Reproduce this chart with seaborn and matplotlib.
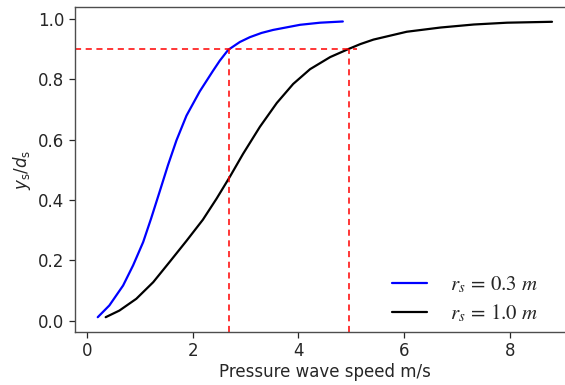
import numpy as np
import pandas as pd
import matplotlib
matplotlib.use("Agg")
import matplotlib.pyplot as plt
from matplotlib.font_manager import FontProperties
import seaborn as sns

# Curve for r_s = 0.3 m (blue)
speed_03 = [0.20, 0.42, 0.68, 0.87, 1.06, 1.21, 1.37, 1.53, 1.69, 1.88, 2.13, 2.38, 2.51, 2.67,
            2.89, 3.08, 3.30, 3.52, 4.03, 4.41, 4.84]
ratio_03 = [0.012, 0.051, 0.117, 0.184, 0.261, 0.339, 0.427, 0.516, 0.598, 0.680, 0.760, 0.828, 0.862, 0.898,
            0.924, 0.940, 0.954, 0.964, 0.981, 0.988, 0.992]

# Curve for r_s = 1.0 m (black)
speed_10 = [0.35, 0.61, 0.93, 1.25, 1.56, 1.88, 2.19, 2.45, 2.70, 2.95, 3.27, 3.59, 3.90,
            4.22, 4.60, 4.95, 5.17, 5.42, 6.05, 6.69, 7.32, 7.95, 8.80]
ratio_10 = [0.012, 0.034, 0.073, 0.128, 0.195, 0.265, 0.335, 0.405, 0.477, 0.553, 0.643, 0.722, 0.785,
            0.834, 0.874, 0.901, 0.917, 0.932, 0.958, 0.972, 0.982, 0.988, 0.991]

labels = [r"$r_s\, =\, 0.3\ m$", r"$r_s\, =\, 1.0\ m$"]
colors = ["blue", "black"]

threshold = 0.9
crossing_speeds = [2.68, 4.95]
hline_end = 5.10

sns.set_theme(style="ticks")
plt.rcParams["font.family"] = ["DejaVu Sans"]
plt.rcParams["mathtext.fontset"] = "dejavusans"

fig = plt.figure(figsize=(5.65, 3.85), dpi=100)
ax = fig.add_axes([0.1328, 0.1377, 0.8844, 0.8449])

df03 = pd.DataFrame({"speed": speed_03, "ratio": ratio_03})
df10 = pd.DataFrame({"speed": speed_10, "ratio": ratio_10})
sns.lineplot(data=df03, x="speed", y="ratio", color=colors[0], lw=1.6, ax=ax,
             sort=False, estimator=None, label=labels[0])
sns.lineplot(data=df10, x="speed", y="ratio", color=colors[1], lw=1.6, ax=ax,
             sort=False, estimator=None, label=labels[1])

xlim = ax.get_xlim()
ylim = ax.get_ylim()
ax.hlines(threshold, xlim[0], hline_end, colors="red", linestyles=(0, (4, 3)), lw=1.1)
ax.vlines(crossing_speeds, ylim[0], threshold, colors="red", linestyles=(0, (4, 3)), lw=1.1)
ax.set_xlim(xlim)
ax.set_ylim(ylim)

for s in ax.spines.values():
    s.set_linewidth(1.0)
    s.set_color(".3")
ax.set_xticks([0, 2, 4, 6, 8])
ax.set_yticks([0.0, 0.2, 0.4, 0.6, 0.8, 1.0])
ax.tick_params(labelsize=12, colors=".15", length=4, width=0.9)
ax.set_xlabel("Pressure wave speed m/s", fontsize=12, labelpad=2, color=".15")
ax.set_ylabel(r"$y_\mathrm{s}/d_\mathrm{s}$", fontsize=12, labelpad=4, color=".15")

leg_font = FontProperties(family="DejaVu Serif", size=15, math_fontfamily="stix")
leg = ax.legend(loc="lower right", frameon=False, prop=leg_font,
                bbox_to_anchor=(0.942, 0.0), borderaxespad=0.0,
                handlelength=1.65, handletextpad=1.1, labelspacing=0.35)

fig.savefig("out.png", dpi=100)
